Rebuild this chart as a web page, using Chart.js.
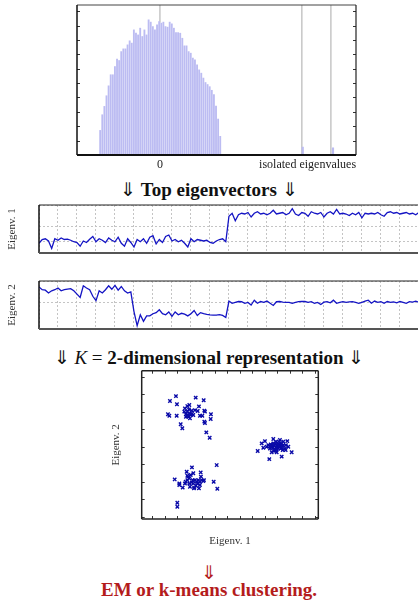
<!DOCTYPE html>
<html lang="en">
<head>
  <meta charset="UTF-8" />
  <title>Spectral clustering pipeline</title>
  <script src="https://cdn.jsdelivr.net/npm/chart.js"></script>
  <style>
    html, body { margin: 0; padding: 0; background: #fff; overflow: hidden; width: 418px; height: 601px; }
    .box { position: absolute; left: 0; }
    .cap { position: absolute; left: 0; width: 418px; text-align: center; line-height: 20px;
           font-family: "Liberation Serif", serif; font-weight: bold; font-size: 19px; color: #111; white-space: nowrap; }
    .thin { font-weight: normal; }
  </style>
</head>
<body>
  <canvas id="hist" class="box" style="top:0" width="418" height="175"></canvas>
  <div class="cap" style="top:180px"><span class="thin">⇓</span> Top eigenvectors <span class="thin">⇓</span></div>
  <canvas id="eig1" class="box" style="top:195px" width="432" height="65"></canvas>
  <canvas id="eig2" class="box" style="top:271px" width="432" height="65"></canvas>
  <div class="cap" style="top:348px"><span class="thin">⇓ <i>K</i> =</span> 2-dimensional representation <span class="thin">⇓</span></div>
  <canvas id="scatter" class="box" style="top:365px" width="418" height="190"></canvas>
  <div class="cap" style="top:563px;color:#b41c1c"><span class="thin">⇓</span></div>
  <div class="cap" style="top:580px;color:#b41c1c">EM or k-means clustering.</div>

  <script>
    // --- spectrum histogram (bulk + isolated eigenvalues)
    const binStart = -1.974;
    const binWidth = 0.0696;
    const bulkHeights = [
      1.71, 2.80, 3.38, 4.12, 4.81, 5.58, 5.58, 6.15, 6.67, 6.57,
      7.19, 7.38, 7.38, 7.66, 7.94, 7.78, 8.70, 8.47, 8.35, 8.82,
      8.24, 8.70, 8.35, 9.40, 9.24, 8.93, 8.70, 9.05, 9.28, 9.17,
      9.24, 8.93, 8.89, 9.24, 9.12, 8.82, 8.51, 8.51, 8.47, 8.12,
      7.59, 7.59, 7.19, 7.08, 6.74, 6.62, 6.27, 5.92, 5.69, 5.35,
      5.04, 4.90, 4.75, 4.50, 4.20, 3.40, 2.50, 1.30
    ];
    const isolatedX = [4.72, 5.72];
    const isolatedHeights = [0.55, 0.5];
    const markerLines = [{ x: 0, from: 9.2 }, { x: 4.69 }, { x: 5.65 }];
    const histTickValues = [0, 4.88];
    const histTickLabels = ['0', 'isolated eigenvalues'];
    const histYTicks = [1, 2, 3, 4, 5, 6, 7, 8, 9, 10];

    // --- top eigenvectors (one sample per entry)
    const eigv1 = [
      -0.15, 0.10, 0.15, 0.00, -0.50, 0.15, 0.05, 0.20, 0.10, 0.12,
      0.05, -0.05, -0.10, -0.35, 0.00, -0.10, 0.12, 0.30, -0.05, 0.15,
      0.05, -0.10, 0.20, 0.05, -0.05, 0.25, -0.15, -0.35, 0.15, -0.10,
      -0.40, 0.10, -0.05, 0.15, -0.15, 0.25, 0.35, -0.20, 0.10, -0.10,
      0.30, 0.40, 0.00, 0.10, -0.05, 0.05, -0.15, -0.40, 0.15, -0.05,
      0.10, 0.05, 0.00, 0.05, -0.10, -0.15, 0.00, 0.10, 0.15, -0.05,
      1.65, 1.85, 1.35, 1.75, 1.85, 1.80, 1.90, 1.60, 1.85, 1.95,
      1.80, 1.85, 1.75, 1.85, 2.05, 1.80, 1.85, 1.90, 1.75, 1.85,
      2.15, 1.80, 1.70, 1.90, 1.85, 1.65, 1.95, 1.85, 1.80, 1.90,
      1.60, 1.85, 1.95, 1.80, 2.10, 1.80, 1.85, 1.80, 1.70, 1.85,
      1.75, 1.90, 1.55, 1.85, 1.80, 1.85, 1.80, 1.90, 1.75, 1.65,
      1.90, 1.95, 1.85, 1.90, 1.80, 1.85, 1.90, 1.80, 1.85, 1.75,
      1.90, 1.85, 1.80, 1.85
    ];
    const eigv2 = [
      1.73, 1.60, 1.58, 1.45, 1.55, 1.60, 1.68, 1.55, 1.60, 1.63,
      1.65, 1.55, 1.40, 1.25, 1.78, 1.68, 1.60, 1.30, 1.10, 1.55,
      1.45, 1.60, 1.78, 1.62, 1.80, 1.58, 1.75, 1.55, 1.45, 1.50,
      0.60, -0.05, 0.45, 0.15, 0.40, 0.40, 0.50, 0.55, 0.68, 0.50,
      0.45, 0.58, 0.38, 0.58, 0.45, 0.52, 0.48, 0.40, 0.50, 0.65,
      0.42, 0.55, 0.50, 0.47, 0.45, 0.44, 0.44, 0.46, 0.42, 0.33,
      1.08, 0.98, 1.02, 1.06, 1.05, 0.98, 1.02, 0.90, 1.12, 0.98,
      1.06, 1.02, 1.08, 0.98, 0.88, 1.05, 1.06, 1.03, 1.02, 1.02,
      0.98, 1.02, 1.05, 1.07, 1.06, 1.02, 1.05, 0.98, 1.02, 0.92,
      1.03, 1.05, 1.00, 1.12, 0.98, 1.02, 1.05, 1.02, 1.04, 1.05,
      1.02, 0.98, 1.02, 1.08, 1.12, 0.98, 1.08, 1.02, 1.05, 0.98,
      1.06, 1.02, 1.04, 1.00, 1.06, 1.02, 0.98, 1.05, 1.03, 1.08,
      1.02, 1.05, 1.00, 1.03
    ];

    // --- 2-d embedding, three clusters [eigenv.1, eigenv.2]
    const clusterTopLeft = [
      [1.89, 6.90], [1.41, 6.62], [1.97, 6.43], [3.47, 6.81], [4.11, 6.66], [3.73, 6.31],
      [1.25, 5.86], [1.36, 5.78], [1.95, 5.78], [2.61, 6.20], [2.80, 6.33], [2.96, 6.39],
      [2.56, 6.01], [2.69, 5.86], [2.88, 5.72], [3.01, 5.63], [3.28, 5.82], [3.41, 6.10],
      [3.63, 6.05], [3.81, 5.78], [4.00, 5.78], [4.16, 6.07], [4.21, 6.01], [4.69, 5.86],
      [4.67, 5.59], [4.16, 5.44], [4.21, 5.36], [2.27, 5.29], [2.40, 5.06], [4.32, 4.83],
      [4.59, 4.52], [2.80, 6.01], [3.01, 5.91], [3.15, 6.07], [2.69, 5.72], [2.93, 6.14],
      [2.83, 5.82], [3.07, 5.82], [3.17, 5.88]
    ];
    const clusterRight = [
      [8.43, 3.76], [8.75, 4.20], [9.01, 4.33], [9.36, 3.30], [10.35, 3.44], [11.15, 3.69],
      [10.80, 4.33], [10.88, 4.01], [9.68, 4.45], [10.21, 4.39], [9.95, 4.10], [9.55, 4.01],
      [9.41, 3.91], [9.81, 3.82], [10.08, 3.91], [10.35, 3.95], [10.48, 4.10], [10.61, 3.91],
      [9.15, 4.01], [9.28, 4.10], [9.68, 4.20], [9.89, 4.30], [10.16, 4.14], [9.55, 3.69],
      [9.73, 3.76], [10.43, 3.82], [10.00, 4.01], [9.63, 3.95], [10.21, 4.05], [9.47, 4.14],
      [9.95, 3.69], [10.69, 4.10], [8.88, 3.95], [9.84, 4.18], [10.11, 4.30], [10.32, 4.20],
      [10.48, 4.30], [10.67, 3.82], [9.73, 4.07], [9.89, 3.95], [10.05, 4.14], [10.27, 3.91],
      [9.57, 4.10], [9.79, 3.88], [10.16, 4.03], [10.37, 4.07], [9.41, 4.03], [9.95, 3.84]
    ];
    const clusterBottomLeft = [
      [1.79, 2.14], [2.16, 1.91], [2.16, 1.82], [2.43, 1.67], [2.75, 2.58], [3.17, 2.83],
      [3.28, 2.49], [3.87, 2.54], [3.89, 2.30], [4.91, 2.01], [5.15, 2.96], [5.20, 1.61],
      [2.00, 0.81], [2.00, 0.58], [2.61, 1.91], [2.80, 2.10], [2.96, 2.20], [3.07, 2.39],
      [3.01, 1.72], [3.15, 1.97], [3.28, 1.91], [3.41, 2.10], [3.55, 2.01], [3.68, 2.10],
      [3.81, 1.82], [3.73, 1.63], [3.95, 2.10], [4.08, 2.05], [2.88, 2.30], [2.80, 2.35],
      [3.36, 1.67], [3.49, 1.78], [3.60, 1.91], [3.23, 2.10], [2.96, 1.91], [2.67, 2.01],
      [3.81, 2.01], [4.13, 2.10], [3.33, 1.63]
    ];
    const scatterXTicks = [0, 1, 2, 3, 4, 5, 6, 7, 8, 9, 10, 11, 12, 13];
    const scatterYTicks = [0, 1, 2, 3, 4, 5, 6, 7, 8];

    Chart.defaults.font.family = '"Liberation Serif", serif';
    Chart.defaults.color = '#222';
    Chart.defaults.animation = false;
    Chart.defaults.plugins.legend.display = false;
    Chart.defaults.plugins.tooltip.enabled = false;

    // frame, inward ticks and marker lines
    const framePlugin = {
      id: 'frame',
      beforeDatasetsDraw(chart, args, opts) {
        const { ctx, chartArea: a, scales } = chart;
        ctx.save();
        ctx.strokeStyle = '#c6c6c6';
        ctx.lineWidth = 1.5;
        (opts.vlines || []).forEach(l => {
          const x = scales.x.getPixelForValue(l.x);
          const yEnd = l.from != null ? scales.y.getPixelForValue(l.from) : a.bottom;
          ctx.beginPath(); ctx.moveTo(x, a.top); ctx.lineTo(x, yEnd); ctx.stroke();
        });
        ctx.restore();
      },
      afterDraw(chart, args, opts) {
        const { ctx, chartArea: a, scales } = chart;
        const len = opts.tickLen || 3;
        ctx.save();
        ctx.strokeStyle = '#333';
        ctx.lineWidth = 1;
        (opts.yTicks || []).forEach(v => {
          const y = Math.round(scales.y.getPixelForValue(v)) + 0.5;
          ctx.beginPath();
          ctx.moveTo(a.left, y); ctx.lineTo(a.left + len, y);
          ctx.moveTo(a.right, y); ctx.lineTo(a.right - len, y);
          ctx.stroke();
        });
        (opts.xTicks || []).forEach(v => {
          const x = Math.round(scales.x.getPixelForValue(v)) + 0.5;
          ctx.beginPath();
          ctx.moveTo(x, a.bottom); ctx.lineTo(x, a.bottom - len);
          ctx.moveTo(x, a.top); ctx.lineTo(x, a.top + len);
          ctx.stroke();
        });
        const s = opts.sides || {};
        const edges = {
          top: [a.left, a.top, a.right, a.top],
          bottom: [a.left, a.bottom, a.right, a.bottom],
          left: [a.left, a.top, a.left, a.bottom],
          right: [a.right, a.top, a.right, a.bottom]
        };
        Object.keys(s).forEach(k => {
          const e = edges[k];
          ctx.strokeStyle = s[k].c;
          ctx.lineWidth = s[k].w;
          ctx.beginPath(); ctx.moveTo(e[0], e[1]); ctx.lineTo(e[2], e[3]); ctx.stroke();
        });
        ctx.restore();
      }
    };

    // histogram of the spectrum
    new Chart(document.getElementById('hist'), {
      type: 'bar',
      data: {
        datasets: [{
          data: bulkHeights.map((h, i) => ({ x: binStart + i * binWidth, y: h })),
          backgroundColor: '#bcbcf2',
          barThickness: 1.2,
          grouped: false
        }, {
          data: isolatedHeights.map((h, i) => ({ x: isolatedX[i], y: h })),
          backgroundColor: '#bcbcf2',
          barThickness: 1.5,
          grouped: false
        }]
      },
      options: {
        responsive: false,
        layout: { padding: { left: 77, right: 62, top: 5, bottom: 0 } },
        scales: {
          x: {
            type: 'linear', min: -2.74, max: 6.48, offset: false,
            grid: { display: false, drawTicks: false },
            border: { display: false },
            afterBuildTicks: s => { s.ticks = histTickValues.map(v => ({ value: v })); },
            afterFit: s => { s.height = 20; },
            ticks: {
              autoSkip: false, maxRotation: 0, padding: 3,
              font: { size: 12 },
              callback: (v, i) => histTickLabels[i]
            }
          },
          y: { display: false, min: 0, max: 10.43 }
        },
        plugins: {
          frame: {
            vlines: markerLines,
            yTicks: histYTicks,
            sides: {
              top: { w: 1, c: '#444' }, right: { w: 1.2, c: '#222' },
              left: { w: 1.5, c: '#111' }, bottom: { w: 2, c: '#111' }
            }
          }
        }
      },
      plugins: [framePlugin]
    });

    function eigenChart(id, series, label, yMin, yMax) {
      new Chart(document.getElementById(id), {
        type: 'line',
        data: {
          datasets: [{
            data: series.map((v, i) => ({ x: i, y: v })),
            borderColor: '#1414c4',
            borderWidth: 1.3,
            pointRadius: 0,
            tension: 0
          }]
        },
        options: {
          responsive: false,
          layout: { padding: { left: 2, right: 2, top: 10, bottom: 0 } },
          scales: {
            x: {
              type: 'linear', min: 0, max: 123.5,
              ticks: { display: false, stepSize: 6 },
              grid: { color: '#c4c4c4', lineWidth: 1, drawTicks: false },
              border: { display: false, dash: [2, 2] },
              afterFit: s => { s.height = 7; }
            },
            y: {
              min: yMin, max: yMax,
              ticks: { display: false, stepSize: 1 },
              grid: { color: '#c4c4c4', lineWidth: 1, drawTicks: false },
              border: { display: false, dash: [2, 2] },
              title: { display: true, text: label, font: { size: 11 }, color: '#333' },
              afterFit: s => { s.width = 37; }
            }
          },
          plugins: {
            frame: {
              sides: {
                top: { w: 1, c: '#222' }, left: { w: 1.5, c: '#111' },
                bottom: { w: 2, c: '#555' }
              }
            }
          }
        },
        plugins: [framePlugin]
      });
    }
    eigenChart('eig1', eigv1, 'Eigenv. 1', -0.8, 2.4);
    eigenChart('eig2', eigv2, 'Eigenv. 2', -0.2, 2.0);

    // 2-d representation
    const pointStyle = {
      pointStyle: 'crossRot', pointRadius: 2.4, borderWidth: 1.4,
      borderColor: '#0a0aa8', backgroundColor: '#0a0aa8'
    };
    new Chart(document.getElementById('scatter'), {
      type: 'scatter',
      data: {
        datasets: [clusterTopLeft, clusterRight, clusterBottomLeft].map(c => Object.assign({
          data: c.map(p => ({ x: p[0], y: p[1] }))
        }, pointStyle))
      },
      options: {
        responsive: false,
        layout: { padding: { left: 106, right: 99.7, top: 5.7, bottom: 3 } },
        scales: {
          x: {
            min: -0.85, max: 13.28,
            ticks: { display: false },
            grid: { display: false, drawTicks: false },
            border: { display: false },
            title: { display: true, text: 'Eigenv. 1', font: { size: 11 }, color: '#333' },
            afterFit: s => { s.height = 33; }
          },
          y: {
            min: -0.12, max: 8.35,
            ticks: { display: false },
            grid: { display: false, drawTicks: false },
            border: { display: false },
            title: { display: true, text: 'Eigenv. 2', font: { size: 11 }, color: '#333' },
            afterFit: s => { s.width = 35.7; }
          }
        },
        plugins: {
          frame: {
            xTicks: scatterXTicks,
            yTicks: scatterYTicks,
            sides: {
              top: { w: 1.5, c: '#222' }, right: { w: 1.5, c: '#222' },
              left: { w: 1.5, c: '#222' }, bottom: { w: 1.5, c: '#222' }
            }
          }
        }
      },
      plugins: [framePlugin]
    });
  </script>
</body>
</html>
